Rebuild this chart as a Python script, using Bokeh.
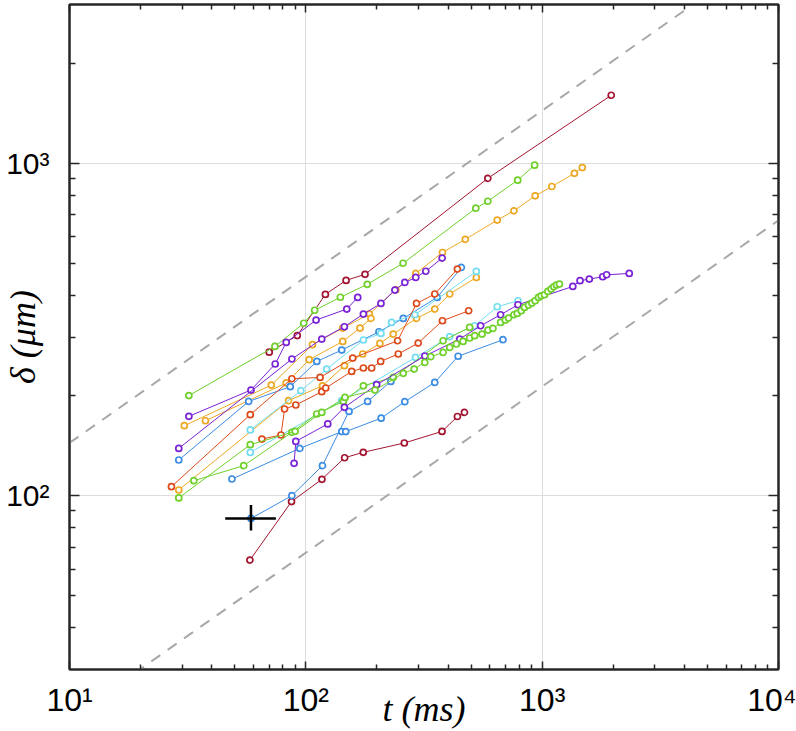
import math
from bokeh.plotting import figure
from bokeh.models import Range1d, LogAxis, FixedTicker
from bokeh.embed import file_html
from bokeh.resources import INLINE

# ---------------- data (t in ms, delta in micrometres) ----------------
darkred_a_t = [70, 92, 121, 148, 178, 589, 1960]
darkred_a_d = [270, 303, 403, 444, 463, 900, 1600]

darkred_b_t = [58, 87, 117, 146, 175, 261, 377, 438, 469]
darkred_b_d = [64, 96, 112, 130, 135, 144, 156, 173, 178]

green_a_t = [32, 74, 98, 109, 140, 182, 258, 524, 589, 788, 929]
green_a_d = [200, 281, 330, 361, 395, 432, 500, 732, 768, 889, 986]

green_b_t = [33.6, 54.6, 87.3, 111.3, 144.2, 175.2, 234.4, 381.1, 493.4]
green_b_d = [110.9, 123.1, 155, 176, 192, 214, 226.7, 292.3, 320.6]

green_c_t = [29.0, 58.2, 90.1, 116.8, 146.5, 196.1, 258.4, 287.4, 318.8, 337.9,
             381.1, 406.3, 433.5, 462.8, 493.4, 518, 556.7, 590, 619.4, 667,
             698.2, 720.9, 759.6, 784.6, 815.7, 842.2, 875.6, 904.5, 934, 964.6,
             990.4, 1023, 1057, 1091, 1120, 1149, 1183]
green_c_d = [98.4, 142.3, 156.1, 178, 197.4, 207.8, 233.2, 240.3, 251.6, 261.7,
             269.6, 279.1, 285.8, 290.9, 297.9, 302.7, 306.2, 314.8, 318.3, 331.8,
             337.4, 342.1, 350, 353.1, 359.8, 368.1, 374.2, 379.5, 385.6, 394.5,
             399.1, 401.9, 411.2, 418.1, 424.8, 429.8, 432.8]

orange_a_t = [30.6, 71.4, 106.7, 143.3, 185.7, 240.4, 292, 378.5, 473, 645.6, 759.6, 934, 1099, 1369, 1479]
orange_a_d = [162.3, 215, 284.4, 319.2, 351.6, 416, 465.8, 538.6, 590, 674, 719, 797.6, 850.7, 931.8, 970]

orange_b_t = [37.6, 82.6, 103.3, 143.3, 169.5, 188.6]
orange_b_d = [168, 218.2, 256.4, 290.9, 319.2, 341.3]

orange_c_t = [29, 84.5, 117.6, 145.6, 174, 205.8, 234.4, 294, 351.3, 406.3, 526.6]
orange_c_d = [104, 193, 214, 245.9, 266.7, 287, 306.2, 341.3, 364, 404, 453]

purple_a_t = [32.0, 58.6, 74.2, 82.6, 110.5, 149, 165.8]
purple_a_d = [173.2, 207.8, 248.8, 289, 337.4, 364, 394.5]

purple_b_t = [29.0, 87.3, 116.8, 145.6, 175.2, 207.9, 238.2, 262.4, 292, 321.9, 377.4]
purple_b_d = [138.7, 257.6, 295.8, 322.1, 351.6, 378.4, 415.3, 437.7, 453.2, 473, 518.2]

purple_c_t = [89.2, 90.7, 123.8, 145.6, 199.4, 318.8, 447.8, 549.2, 666.8, 790,
              1348, 1446, 1583, 1804, 1875, 2336]
purple_c_d = [125.1, 145.6, 164.3, 184.3, 215.6, 263, 295.8, 324.3, 350, 375.1,
              425.8, 443, 448.1, 455.3, 461.6, 465.8]

blue_a_t = [58.6, 87.3, 117.6, 152.3, 182.6, 229]
blue_a_d = [85.4, 100, 123.1, 179.2, 192, 220.6]

blue_b_t = [48.7, 94.3, 141.9, 147.5, 208.3, 262.4, 351.3, 441, 682.8]
blue_b_d = [112.2, 138.7, 155.8, 155.8, 171, 191.7, 219, 262.6, 294.4]

blue_c_t = [29.0, 57.3, 85.9, 111.3, 141.9, 203.9, 258.4, 359.6, 455]
blue_c_d = [128, 192, 212.7, 253.3, 274.1, 311.1, 341.3, 394.5, 485.6]

cyan_a_t = [58.2, 95.3, 122.6, 175.2, 207.9, 230.6, 289.2, 526.6]
cyan_a_d = [157.6, 206.8, 240.3, 293.8, 307.5, 331.8, 350, 472.3]

cyan_b_t = [58.2, 141.9, 291.1, 406.3, 518, 645.6, 790]
cyan_b_d = [134.9, 193, 260.4, 300.6, 324.3, 369.9, 385.6]

red_a_t = [27.0, 58.2, 87.3, 114.9, 157.9, 244.5, 294, 351.3, 437.8]
red_a_d = [106.4, 175.2, 224.7, 226.7, 259.3, 292.3, 378.4, 404, 480.2]

red_b_t = [65.2, 78.5, 81.3, 90.7, 116.8, 121.4, 156.3, 175.2, 189.9, 207.3, 246.1, 298.9, 378.5, 488.7]
red_b_d = [148, 152.2, 182.2, 187.3, 205.4, 210.7, 236.4, 242, 242, 253.3, 266.7, 287.7, 335.7, 359.8]

# error cross on the first blue point
cross_t, cross_d = 58.6, 85.4
cross_t_err = [45.6, 74.7]
cross_d_err = [78.5, 93.8]

# sqrt(t) guide lines
guide_t = [10, 10000]
guide_hi_d = [144, 4550]
guide_lo_d = [21.3, 673]

x_ticks = [10, 100, 1000, 10000]
x_minor = [20, 30, 40, 50, 60, 70, 80, 90, 200, 300, 400, 500, 600, 700, 800, 900,
           2000, 3000, 4000, 5000, 6000, 7000, 8000, 9000]
x_labels = ["10¹", "10²", "10³", "10⁴"]
y_ticks = [100, 1000]
y_minor = [40, 50, 60, 70, 80, 90, 200, 300, 400, 500, 600, 700, 800, 900, 2000]
y_labels = ["10²", "10³"]

DARKRED = "#A2142F"
GREEN = "#6FD02A"
ORANGE = "#EDA823"
PURPLE = "#7A22D6"
BLUE = "#3B8CE3"
CYAN = "#72DDF2"
RED = "#DD4A1A"

series = [
    (darkred_a_t, darkred_a_d, DARKRED),
    (darkred_b_t, darkred_b_d, DARKRED),
    (green_a_t, green_a_d, GREEN),
    (orange_a_t, orange_a_d, ORANGE),
    (orange_b_t, orange_b_d, ORANGE),
    (orange_c_t, orange_c_d, ORANGE),
    (purple_a_t, purple_a_d, PURPLE),
    (purple_b_t, purple_b_d, PURPLE),
    (blue_a_t, blue_a_d, BLUE),
    (blue_b_t, blue_b_d, BLUE),
    (blue_c_t, blue_c_d, BLUE),
    (cyan_a_t, cyan_a_d, CYAN),
    (cyan_b_t, cyan_b_d, CYAN),
    (red_a_t, red_a_d, RED),
    (red_b_t, red_b_d, RED),
    (green_b_t, green_b_d, GREEN),
    (purple_c_t, purple_c_d, PURPLE),
    (green_c_t, green_c_d, GREEN),
]

# ---------------- layout ----------------
X_MIN, X_MAX = 10, 1e4
Y_MIN, Y_MAX = 30, 3000
W, H = 796, 731
BL, BR, BT, BB = 67, 18, 4, 62

p = figure(width=W, height=H, x_axis_type="log", y_axis_type="log",
           x_range=Range1d(X_MIN, X_MAX), y_range=Range1d(Y_MIN, Y_MAX),
           output_backend="svg", toolbar_location=None,
           min_border_left=BL, min_border_right=BR,
           min_border_top=BT, min_border_bottom=BB)
p.background_fill_color = "white"
p.border_fill_color = "white"
p.outline_line_color = "#262626"
p.outline_line_width = 2

AX = "#262626"
xt = FixedTicker(ticks=x_ticks, minor_ticks=x_minor)
yt = FixedTicker(ticks=y_ticks, minor_ticks=y_minor)

bottom = p.xaxis[0]
left = p.yaxis[0]
bottom.ticker = xt
left.ticker = yt
p.xgrid.ticker = xt
p.ygrid.ticker = yt

top = LogAxis(ticker=xt)
right = LogAxis(ticker=yt)
p.add_layout(top, "above")
p.add_layout(right, "right")

for ax, tin, mtin in ((bottom, 8, 5), (left, 10, 6), (top, 8, 5), (right, 10, 6)):
    ax.axis_line_color = AX
    ax.axis_line_width = 2
    ax.major_tick_in = tin
    ax.major_tick_out = 0
    ax.minor_tick_in = mtin
    ax.minor_tick_out = 0
    ax.major_tick_line_color = AX
    ax.minor_tick_line_color = AX
    ax.major_tick_line_width = 1.5
    ax.minor_tick_line_width = 1.5

for ax, tks in ((top, x_ticks), (right, y_ticks)):
    ax.major_label_overrides = {tk: "" for tk in tks}
    ax.major_label_text_font_size = "1px"
    ax.major_label_standoff = 0
    ax.axis_label_standoff = 0

SANS = "Liberation Sans"
SERIF = "Liberation Serif"

bottom.major_label_overrides = dict(zip(x_ticks, x_labels))
bottom.major_label_text_font = SANS
bottom.major_label_text_font_size = "32px"
bottom.major_label_text_color = "black"
bottom.major_label_standoff = 12
bottom.axis_label = "t (ms)"
bottom.axis_label_text_font = SERIF
bottom.axis_label_text_font_style = "italic"
bottom.axis_label_text_font_size = "36px"
bottom.axis_label_text_color = "black"
bottom.axis_label_standoff = -32

left.major_label_overrides = dict(zip(y_ticks, y_labels))
left.major_label_text_font = SANS
left.major_label_text_font_size = "30px"
left.major_label_text_color = "black"
left.major_label_standoff = 20
left.axis_label = "δ (μm)"
left.axis_label_text_font = SERIF
left.axis_label_text_font_style = "italic"
left.axis_label_text_font_size = "36px"
left.axis_label_text_color = "black"
left.axis_label_standoff = -40

p.xgrid.grid_line_color = "#dddddd"
p.ygrid.grid_line_color = "#dddddd"
p.xgrid.grid_line_width = 1
p.ygrid.grid_line_width = 1

# guide lines
for gd in (guide_hi_d, guide_lo_d):
    p.line(guide_t, gd, line_color="#a8a8a8", line_width=2, line_dash="11 9")

for t, d, c in series:
    p.line(t, d, line_color=c, line_width=1)
    p.scatter(t, d, marker="circle", size=6, line_color=c, fill_color="white", line_width=1.7)

# error cross
p.segment(x0=[cross_t_err[0], cross_t], y0=[cross_d, cross_d_err[0]],
          x1=[cross_t_err[1], cross_t], y1=[cross_d, cross_d_err[1]],
          line_color="black", line_width=2.5)

open("out.html", "w").write(file_html(p, INLINE))
